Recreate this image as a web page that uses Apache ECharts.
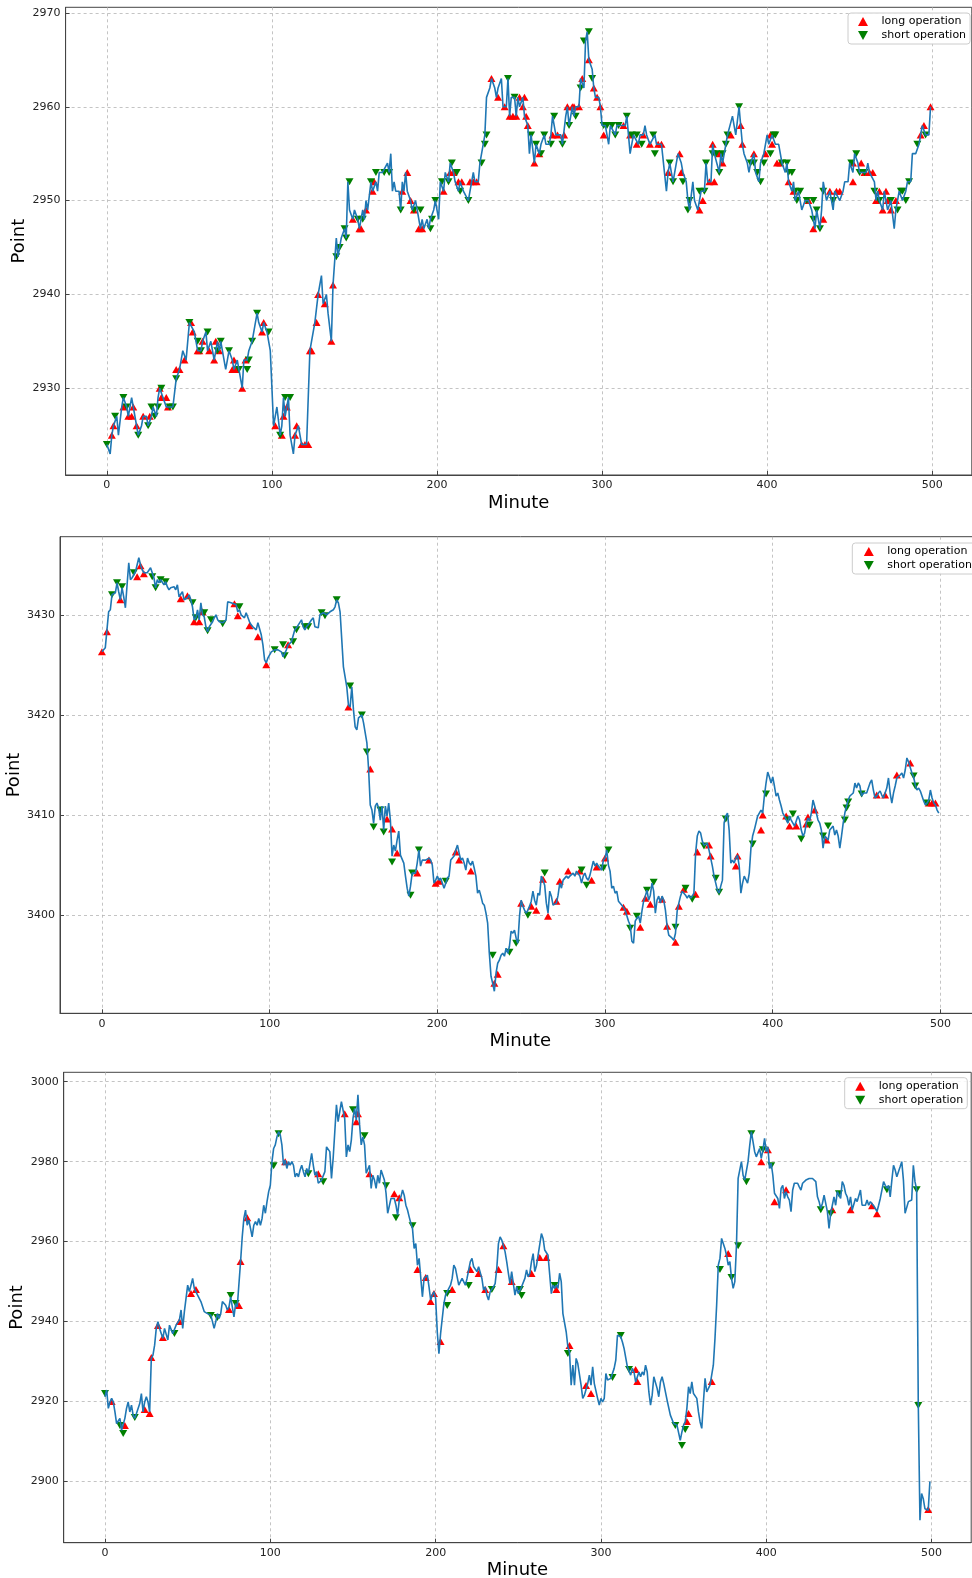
<!DOCTYPE html>
<html>
<head>
<meta charset="utf-8">
<title>long / short operation</title>
<script src="https://cdn.jsdelivr.net/npm/echarts@6/dist/echarts.min.js"></script>
<style>
html,body{margin:0;padding:0;background:#fff;overflow:hidden;}
/* a little wider than the window: the right edge of the middle panel runs off the picture */
#main{width:1000px;height:1578px;}
</style>
</head>
<body>
<div id="main"></div>
<script>
//数据 [minute, point]
var p1Price=[[0,2924],[2,2923],[3,2925],[4,2926],[6,2927],[7,2925],[9,2928],[10,2929],[12,2928],[13,2927],[15,2929],[16,2928],[18,2926],[19,2925],[21,2926],[22,2927],[24,2927],[25,2926],[27,2927],[28,2928],[30,2927],[31,2929],[32,2930],[34,2929],[35,2929],[36,2928],[38,2928],[40,2928],[42,2931],[44,2932],[45,2933],[46,2934],[48,2933],[50,2937],[51,2937],[53,2936],[54,2935],[55,2934],[57,2934],[58,2935],[60,2936],[61,2934],[63,2935],[64,2934],[65,2933],[67,2935],[68,2934],[69,2935],[71,2933],[72,2932],[73,2933],[74,2934],[76,2933],[77,2932],[79,2933],[80,2932],[82,2930],[83,2933],[85,2933],[86,2934],[88,2935],[89,2935],[91,2938],[92,2937],[94,2936],[95,2937],[97,2936],[98,2936],[99,2934],[101,2926],[102,2927],[103,2928],[105,2925],[106,2926],[107,2929],[108,2927],[110,2929],[111,2925],[113,2923],[114,2925],[116,2926],[117,2925],[118,2924],[121,2924],[123,2934],[124,2934],[126,2937],[128,2940],[129,2941],[130,2942],[131,2939],[133,2940],[134,2938],[136,2935],[137,2941],[139,2946],[140,2944],[141,2945],[142,2946],[144,2947],[145,2946],[146,2952],[147,2949],[149,2948],[150,2949],[152,2948],[153,2947],[155,2949],[156,2948],[157,2950],[158,2949],
[160,2952],[161,2951],[163,2952],[164,2951],[165,2953],[167,2953],[168,2953],[170,2954],[171,2953],[172,2955],[173,2951],[174,2952],[175,2951],[177,2951],[178,2949],[179,2952],[180,2951],[181,2953],[182,2951],[184,2950],[185,2949],[187,2950],[188,2950],[190,2947],[191,2948],[192,2947],[194,2948],[195,2947],[196,2948],[198,2949],[199,2950],[201,2948],[202,2952],[204,2951],[205,2953],[207,2952],[208,2954],[210,2953],[211,2952],[213,2951],[214,2952],[216,2951],[217,2951],[219,2950],[220,2951],[222,2953],[223,2952],[225,2952],[226,2954],[228,2956],[229,2957],[230,2961],[232,2962],[233,2963],[235,2962],[236,2961],[237,2962],[239,2963],[240,2960],[242,2960],[243,2963],[244,2959],[245,2961],[247,2961],[248,2959],[249,2961],[250,2960],[252,2961],[253,2959],[255,2958],[256,2955],[257,2957],[259,2954],[260,2956],[262,2955],[263,2956],[265,2957],[266,2956],[268,2956],[269,2957],[270,2959],[272,2957],[273,2957],[275,2957],[276,2956],[278,2959],[279,2960],[280,2958],[282,2960],[283,2959],[284,2960],[286,2960],[287,2963],[289,2962],[290,2967],[291,2968],[292,2965],[294,2964],[295,2962],[296,2961],[298,2961],[299,2960],[300,2958],[302,2958],[303,2958],[304,2956],[305,2958],[306,2958],[308,2957],[309,2958],[311,2958],[312,2958],[314,2958],[315,2959],[316,2957],[317,2955],[319,2957],[320,2957],[322,2956],[323,2957],[325,2957],[326,2958],[327,2957],[329,2956],[330,2956],[332,2957],[333,2956],[334,2956],[336,2956],[337,2956],[339,2951],[340,2953],[341,2954],[343,2952],[344,2952],[346,2955],[347,2955],[348,2954],[349,2953],[351,2952],[352,2950],[353,2949],
[355,2952],[356,2950],[358,2949],[359,2950],[360,2951],[362,2951],[363,2954],[364,2952],[366,2952],[367,2956],[368,2955],[369,2955],[371,2953],[372,2955],[373,2954],[375,2956],[376,2957],[377,2957],[379,2959],[380,2958],[381,2957],[383,2960],[384,2958],[385,2956],[386,2955],[388,2954],[389,2953],[390,2954],[392,2955],[393,2953],[394,2953],[395,2952],[396,2954],[398,2955],[399,2956],[400,2957],[401,2956],[403,2957],[404,2957],[405,2956],[407,2956],[408,2955],[409,2954],[411,2953],[412,2954],[413,2952],[415,2951],[416,2952],[417,2950],[419,2951],[420,2950],[421,2949],[423,2950],[424,2950],[425,2950],[427,2949],[428,2948],[429,2947],[430,2949],[432,2947],[433,2949],[434,2952],[435,2951],[436,2950],[438,2951],[439,2950],[440,2949],[441,2951],[442,2951],[444,2950],[445,2950],[446,2951],[447,2952],[449,2952],[450,2954],[451,2954],[452,2953],[453,2955],[455,2954],[456,2953],[457,2953],[458,2953],[460,2953],[461,2954],[462,2953],[463,2953],[465,2952],[466,2950],[467,2951],[468,2950],[470,2949],[471,2951],[472,2950],[473,2949],[475,2950],[477,2947],[478,2949],[479,2950],[480,2951],[481,2951],[482,2950],[484,2951],[485,2952],[487,2952],[488,2955],[490,2955],[491,2955],[492,2956],[493,2957],[494,2958],[496,2957],[497,2957],[498,2957],[499,2960]];

var p1Long=[[3,2925],[4,2926],[10,2928],[13,2927],[15,2927],[16,2928],[18,2926],[22,2927],[26,2927],[32,2930],[33,2929],[36,2929],[37,2928],[42,2932],[44,2932],[47,2933],[51,2937],[52,2936],[55,2934],[56,2934],[58,2935],[62,2934],[65,2933],[66,2935],[68,2934],[76,2932],[77,2933],[78,2932],[82,2930],[84,2933],[94,2936],[95,2937],[102,2926],[106,2925],[107,2927],[109,2928],[114,2925],[115,2926],[118,2924],[120,2924],[122,2924],[123,2934],[124,2934],[127,2937],[128,2940],[132,2939],[136,2935],[137,2941],[149,2948],[153,2947],[154,2947],[157,2949],[161,2951],[162,2952],
[179,2951],[182,2953],[184,2950],[186,2949],[189,2947],[191,2947],[204,2951],[208,2953],[210,2953],[213,2952],[215,2952],[220,2952],[222,2952],[224,2952],[233,2963],[237,2961],[241,2960],[244,2959],[246,2959],[248,2959],[250,2961],[252,2960],[253,2961],[254,2959],[255,2958],[259,2954],[262,2955],[270,2957],[273,2957],[277,2957],[279,2960],[282,2960],[283,2960],[286,2960],[288,2963],[292,2965],[295,2962],[297,2961],[299,2960],[301,2957],[313,2958],[317,2957],[321,2956],[325,2957],[329,2956],[334,2956],[336,2956],[340,2953],[347,2955],
[348,2953],[359,2949],[361,2950],[365,2952],[367,2956],[368,2952],[371,2955],[373,2954],[378,2957],[384,2958],[385,2956],[392,2955],[399,2955],[402,2957],[403,2956],[406,2954],[408,2954],[413,2952],[416,2951],[425,2950],[428,2947],[434,2948],[438,2951],[442,2951],[444,2951],[452,2952],[452,2954],[457,2954],[459,2953],[462,2953],[464,2953],[466,2950],[468,2951],[470,2949],[472,2951],[473,2950],[475,2949],[478,2950],[493,2957],[495,2958],[499,2960]];

var p1Short=[[0,2924],[5,2927],[10,2929],[12,2928],[19,2925],[25,2926],[27,2928],[29,2927],[31,2928],[33,2930],[38,2928],[40,2928],[42,2931],[50,2937],[55,2935],[57,2934],[61,2936],[67,2934],[69,2935],[74,2934],[80,2932],[85,2932],[86,2933],[88,2935],[91,2938],[98,2936],[105,2925],[108,2929],[111,2929],[139,2944],[141,2945],[144,2947],[145,2946],[147,2952],[152,2948],[155,2948],[160,2952],
[163,2953],[168,2953],[171,2953],[178,2949],[186,2949],[190,2949],[196,2947],[197,2948],[199,2950],[203,2952],[207,2952],[209,2954],[212,2953],[214,2951],[219,2950],[227,2954],[229,2956],[230,2957],[243,2963],[247,2961],[257,2957],[260,2956],[263,2955],[265,2957],[269,2956],[271,2959],[276,2956],[280,2958],[284,2959],[287,2962],[289,2967],[292,2968],[294,2963],[301,2958],[303,2958],[306,2958],[308,2957],[310,2958],[315,2959],[318,2957],[321,2957],[324,2956],[331,2957],[332,2955],[341,2954],[343,2952],
[349,2952],[352,2949],[353,2950],[359,2951],[362,2951],[363,2954],[367,2955],[369,2955],[371,2953],[373,2955],[375,2956],[376,2957],[383,2960],[390,2954],[392,2954],[394,2953],[396,2952],[398,2954],[402,2955],[404,2957],[405,2957],[409,2954],[412,2954],[413,2953],[415,2953],[417,2951],[418,2950],[420,2951],[424,2950],[428,2950],[428,2948],[430,2949],[432,2947],[434,2951],[440,2950],[451,2954],[454,2955],[456,2953],[459,2953],[465,2951],[468,2950],[475,2950],[479,2949],[481,2951],[482,2951],[484,2950],[486,2952],[491,2956],[496,2957]];

var p2Price=[[0,3426.3],[2,3426.7],[3,3428.5],[4,3430.3],[5,3430.5],[6,3432],[8,3432.2],[9,3433.2],[10,3432.3],[11,3431.5],[12,3432.7],[13,3431.8],[14,3430.7],[15,3433],[16,3435.2],[17,3433.5],[18,3433.7],[19,3433.8],[20,3434.3],[22,3435.7],[23,3435],[24,3434.5],[25,3434.2],[27,3434.2],[28,3434.2],[29,3434.7],[31,3433.7],[32,3432.7],[33,3433.5],[34,3433.2],[35,3433.5],[37,3433],[38,3433.3],[39,3432.8],[40,3432.5],[41,3432.7],[43,3432.8],[44,3432.5],[45,3433],[46,3431.8],[47,3431.7],[48,3432.3],[49,3431.5],[51,3431.7],[52,3432],[53,3431.5],[54,3430.8],[55,3429.5],[56,3429.7],[57,3430.5],[58,3429.5],[59,3431.2],[60,3430],[61,3429.8],[62,3428.8],[63,3428.3],[64,3428.8],[66,3429.3],[67,3429.7],[68,3430],[69,3429.5],[70,3429.3],[72,3429.2],[73,3429.3],[74,3429.5],[75,3431.3],[76,3431.3],[77,3431.2],[78,3431.3],[80,3431],[81,3430.3],[82,3430.5],[83,3430],[84,3430],[85,3429.7],[86,3430.2],[88,3429.3],[89,3429],[90,3428.8],[91,3428.8],[92,3428.5],[93,3429.2],[95,3428],[96,3427],[97,3425.5],[98,3425.2],[99,3425.7],[100,3425.7],[101,3426.3],[103,3426.5],[104,3426.5],[105,3426.5],[107,3426.3],[108,3425.8],[109,3425.8],[110,3426.5],[111,3427],[113,3427.3],[114,3427.3],[115,3428.5],[116,3428.7],[117,3428.7],[119,3429.5],[120,3428.8],[121,3428.5],[122,3428.8],[123,3429],[125,3429.5],[126,3429.7],[127,3428.8],[128,3428.8],[129,3428.7],[130,3430],[132,3430.2],[133,3430.3],[134,3430],[135,3430],[136,3430.3],[138,3430.5],[139,3430.8],[140,3431.5],[141,3431.2],[142,3430.3],[143,3430.3],[144,3424.8],[145,3424.8],[146,3422.8],[147,3421],[148,3420.8],[149,3422.8],[150,3420.5],[151,3418.8],[152,3418.5],[153,3419.7],[154,3419.8],[155,3420],[156,3419.2],[158,3417.2],[159,3414.6],[160,3411],
[161,3410.5],[162,3409.2],[163,3410.9],[164,3411.2],[165,3410.7],[166,3409.5],[167,3410.9],[168,3408.5],[169,3410.9],[170,3409.9],[171,3411.2],[172,3409.5],[173,3405.9],[174,3407],[175,3406.4],[176,3407.5],[177,3408.4],[178,3406],[179,3406],[180,3405.2],[181,3403.9],[182,3402.7],[183,3401.9],[184,3402.9],[185,3404.2],[186,3404.2],[187,3404.2],[188,3405.2],[189,3406.5],[190,3404.9],[191,3405.5],[193,3405.5],[195,3405.7],[196,3405.5],[197,3405],[198,3403.2],[199,3403.5],[200,3403.9],[201,3403.5],[202,3403.7],[203,3403.2],[204,3402.7],[205,3403.2],[206,3403.7],[207,3403.9],[208,3405.5],[209,3405.7],[210,3405.9],[211,3406.5],[212,3407],[213,3406.2],[214,3405.5],[215,3405.7],[216,3405.2],[217,3404.5],[218,3405.7],[219,3405.2],[220,3405],[221,3405.4],[222,3404.7],[223,3403.9],[224,3402.2],[225,3402.5],[226,3401.9],[227,3401.2],[228,3401],[229,3400.2],[230,3399.2],[231,3396.2],[232,3393.9],[233,3393.2],[234,3392.4],[235,3394.2],[236,3395.2],[237,3395.5],[238,3396],[239,3396.2],[240,3395.9],[241,3396.7],[242,3396.2],[243,3396.9],[244,3398.4],[245,3398.2],[246,3398.5],[247,3397.7],[248,3397.2],[249,3399.9],[250,3401.5],[251,3400.9],[252,3400.5],[253,3400.2],[254,3400.5],[255,3400.9],[256,3401.4],[257,3402.4],[258,3401.5],[259,3401],[260,3402.2],[261,3402],[262,3403.9],[263,3403.5],[264,3403],[265,3401.2],[266,3400.2],[267,3402.4],[268,3401.9],[269,3401],[270,3400.9],[271,3401.2],[272,3402],[273,3403.2],[274,3402.7],[275,3403.5],[276,3403.4],[277,3403.9],[278,3403.7],[279,3403.9],[280,3403.9],[281,3404.2],[282,3403.9],[283,3404.4],[284,3404.5],[285,3403.9],[286,3403.2],[287,3403.9],[288,3404.2],[289,3403.7],[290,3403.5],[291,3404],[292,3403.9],[293,3405.4],[294,3404.9],[295,3405.2],[296,3404.9],[297,3405],[298,3404.5],[299,3405.5],[300,3405.7],[301,3406.5],[302,3405],[303,3404.4],[304,3402.7],[305,3402.9],[306,3402.2],[307,3402.4],[308,3401.4],[309,3401.2],[310,3401],[311,3400.9],[312,3400.5],[313,3400.4],[314,3399.4],[315,3399],[316,3397.4],[317,3397.2],[318,3399.4],[319,3399.7],[320,3399.9],[321,3399.2],[322,3400.4],[323,3401.4],[324,3401.9],[325,3402.5],[326,3401.5],[327,3402],[328,3403.2],[329,3402.4],[330,3400.2],[331,3401.5],[332,3401.9],[333,3401.2],[334,3401.9],[335,3401.5],[336,3400.5],[337,3398.9],[338,3398],[339,3397.9],[340,3397.7],[341,3397.5],[342,3398.2],[343,3400.4],[344,3401.2],[345,3401.9],[346,3402.4],[347,3402.5],[348,3402],[349,3401.7],[350,3402],
[351,3401.7],[352,3401.9],[353,3402.2],[354,3406.2],[355,3407.9],[356,3408.4],[357,3408.2],[358,3407.4],[359,3407],[360,3406.9],[361,3407.2],[362,3406.5],[363,3405.7],[364,3404.9],[365,3403.9],[366,3403.2],[367,3402.5],[368,3402.2],[369,3402.9],[370,3403.5],[371,3409.2],[372,3409.9],[373,3410.2],[374,3408.5],[375,3405.2],[376,3405.5],[377,3405.2],[378,3405.7],[379,3406],[380,3404.9],[381,3402.2],[382,3403.2],[383,3403.9],[384,3403.9],[385,3403.2],[386,3404.2],[387,3406.7],[388,3407.9],[389,3408.5],[390,3408.4],[391,3409.9],[392,3410],[393,3410.5],[394,3410.2],[395,3411.9],[396,3413.2],[397,3414.3],[398,3413.8],[399,3413.2],[400,3413.8],[401,3412.9],[402,3411.9],[403,3412.2],[404,3411.5],[405,3410.9],[406,3410.2],[407,3409.9],[408,3409.9],[409,3409.2],[410,3409.9],[411,3409.5],[412,3409.2],[413,3408.9],[414,3409.4],[415,3409.9],[416,3409.5],[417,3408.5],[418,3407.9],[419,3408.2],[420,3409.2],[421,3409.7],[422,3409.4],[423,3410.2],[424,3411.5],[425,3410.9],[426,3410.9],[427,3409.5],[428,3409.2],[429,3408.5],[430,3406.7],[431,3407.9],[432,3408],[433,3407.5],[434,3408.5],[435,3408.7],[436,3408.9],[437,3408],[438,3408.5],[439,3407.9],[440,3406.7],[441,3407.9],[442,3409.2],[443,3410.2],[444,3410.9],[445,3411.5],[446,3411.9],[447,3411.9],[448,3412.2],[449,3413.2],[450,3412.7],[451,3413.2],[452,3412.9],[453,3411.9],[454,3412.2],[455,3412.2],[456,3412.2],[457,3412.2],[458,3413.2],[459,3413.5],[460,3412.5],[461,3411.7],[462,3411.9],[463,3412.2],[464,3412.4],[465,3412],[466,3411.7],[467,3412.2],[468,3412.7],[469,3413.7],[470,3412.2],[471,3411.2],[472,3412.2],[473,3412.9],[474,3413.7],[475,3413.8],[476,3414],[477,3414.2],[478,3413.7],[479,3414.5],[480,3415.7],[481,3415.3],[482,3415.2],[483,3414.2],[484,3413.8],[485,3413],[486,3412.5],[487,3412.7],[488,3412.4],[489,3411.9],[490,3411.4],[491,3411],[492,3411.2],[493,3411.5],[494,3412.5],[495,3411.7],[496,3411.2],[497,3411],[498,3410.5],[499,3410.2]];

var p2Long=[[0,3426.3],[3,3428.3],[11,3431.5],[21,3433.8],[23,3434.9],[25,3434.1],[47,3431.6],[51,3431.9],[55,3429.3],[58,3429.3],[60,3430.3],[79,3431.1],[81,3429.9],[88,3428.9],[93,3427.8],[98,3425],[111,3427],[147,3420.8],[160,3414.6],[170,3409.6],[173,3408.6],[176,3406.2],[188,3404.2],[195,3405.5],[199,3403.2],[201,3403.4],[211,3406.3],[213,3405.5],[220,3404.4],[234,3393.2],[236,3394.1],[250,3401.2],[256,3400.9],[259,3400.5],[263,3403.6],[266,3399.9],[271,3401.4],[273,3403.4],[278,3404.4],[285,3404.4],[292,3403.5],[295,3404.8],[300,3405.7],[311,3400.8],[313,3400.4],[321,3398.8],[324,3401.7],[327,3401.1],[334,3401.6],[337,3398.9],[342,3397.3],[344,3400.9],[347,3402.6],[354,3402.1],[355,3406.3],[362,3407],[363,3405.9],[378,3404.9],[379,3405.9],[393,3408.5],[394,3410],[408,3409.9],[410,3408.9],[414,3408.9],[420,3409.1],[421,3409.8],[425,3410.5],[432,3407.5],[462,3412],[467,3412],[474,3414],[482,3415.2],[493,3411.2],[495,3411.2],[497,3411.2]];

var p2Short=[[6,3432],[9,3433.2],[12,3432.8],[19,3434.2],[30,3433.8],[32,3432.7],[35,3433.5],[38,3433.3],[54,3431.2],[56,3429.7],[61,3430.2],[63,3428.4],[65,3429.5],[72,3429.1],[82,3430.8],[103,3426.5],[108,3427],[109,3425.9],[114,3427.3],[116,3428.5],[121,3428.8],[123,3428.8],[131,3430.2],[133,3429.9],[140,3431.5],[148,3422.9],[155,3420],[158,3416.3],[162,3408.8],[166,3410.5],[168,3408.3],[173,3405.3],[184,3402],[185,3404.2],[189,3406.5],[205,3403.4],[233,3396],[243,3396.3],[247,3397.2],[254,3400],[264,3404.2],[286,3404.5],[289,3403],[299,3404.7],[302,3406.5],[315,3398.7],[319,3399.9],[325,3402.5],[329,3403.3],[342,3398.8],[348,3402.7],[352,3401.6],[359,3406.9],[366,3403.7],[368,3402.3],[372,3409.6],[388,3407.1],[396,3412.1],[409,3409.5],[412,3410.1],[417,3407.6],[422,3409],[430,3407.9],[433,3408.9],[443,3409.5],[444,3410.7],[445,3411.3],[453,3412.1],[484,3413.9],[485,3412.9],[492,3411.2]];

var p3Price=[[0,2921.2],[1,2922.9],[2,2918.3],[3,2919.9],[4,2920.8],[5,2919.9],[6,2917.4],[7,2914.5],[8,2914.1],[9,2915.8],[10,2912.8],[11,2913.3],[12,2915.8],[13,2918.3],[14,2919.9],[15,2917.4],[16,2919.1],[17,2916.6],[18,2915.8],[19,2917],[20,2917.4],[21,2919.5],[22,2922],[23,2917.4],[24,2919.9],[25,2921.2],[26,2919.9],[27,2917.4],[28,2930.8],[29,2931.6],[30,2934.1],[31,2938.3],[32,2940],[33,2938.3],[34,2938.3],[35,2935.8],[36,2938.3],[37,2937.9],[38,2935.4],[39,2939.1],[40,2939.1],[41,2937],[42,2936.6],[43,2939.1],[44,2939.1],[45,2940.4],[46,2942.9],[47,2938.3],[48,2942.5],[49,2945.8],[50,2949.1],[51,2947.5],[52,2949.1],[53,2950.8],[54,2948.3],[55,2947.9],[56,2946.6],[57,2946.6],[58,2945],[59,2944.5],[60,2942.5],[61,2942.5],[62,2942],[63,2941.8],[64,2941.6],[65,2940],[66,2938.3],[67,2940],[68,2942],[69,2940.8],[70,2942],[71,2945],[72,2945],[73,2944.1],[74,2942.9],[75,2943.7],[76,2946.2],[77,2943.7],[78,2941.2],[79,2944.5],[80,2943.7],[81,2944.1],[82,2955],[83,2961.2],[84,2965.8],[85,2967.9],[86,2964.1],[87,2965.4],[88,2963.3],[89,2961.2],[90,2964.1],[91,2965],[92,2964.1],[93,2965.8],[94,2964.1],[95,2965.8],[96,2969.1],[97,2967.1],[98,2970],[99,2972.5],[100,2974.1],[101,2980],[102,2983.3],[103,2984.2],[104,2986.2],[105,2987.5],[106,2986.7],[107,2984.2],[108,2979.1],[109,2980.4],[110,2978.3],[111,2980],[112,2979.1],[113,2980],[114,2979.1],[115,2976.2],[116,2977.1],[117,2976.2],[118,2977.9],[119,2979.1],[120,2977.5],[121,2976.2],[122,2978.3],[123,2977.1],[124,2977.1],[125,2982.1],[126,2979.1],[127,2976.6],[128,2977.5],[129,2974.6],[130,2974.6],[131,2975.4],[132,2975.8],[133,2977.5],[134,2983.7],[135,2984.2],[136,2982.5],[137,2975.8],[138,2980.8],[139,2987.5],[140,2994.2],[141,2990],[142,2992.5],[143,2995],[144,2994.6],[145,2990.8],[146,2981.2],[147,2984.2],[148,2982.5],[149,2985.4],[150,2990.8],[151,2993.3],[152,2990.4],[153,2996.7],[154,2989.2],[155,2984.2],[156,2986.2],[157,2984.2],[158,2977.1],[159,2977.5],[160,2979.1],[161,2973.3],[162,2976.6],[163,2975.4],
[164,2973.3],[165,2976.6],[166,2974.6],[167,2977.9],[168,2977.9],[169,2975.4],[170,2972.1],[171,2967.1],[172,2967.5],[173,2970.8],[174,2971.2],[175,2970.8],[176,2969.1],[177,2966.6],[178,2970.4],[179,2971.2],[180,2972.9],[181,2971.6],[182,2969.1],[183,2967.9],[184,2966.2],[185,2964.6],[186,2963.3],[187,2958.3],[188,2959.5],[189,2954.1],[190,2955.8],[191,2955.4],[192,2946.2],[193,2950.8],[194,2951.2],[195,2951.6],[196,2948.7],[197,2945.4],[198,2946.6],[199,2947.5],[200,2945.8],[201,2937.4],[202,2932],[203,2937],[204,2937],[205,2944.5],[206,2946.6],[207,2947.5],[208,2947.5],[209,2949.1],[210,2950.8],[211,2954.1],[212,2953.3],[213,2952.9],[214,2949.1],[215,2950],[216,2950.8],[217,2950.4],[218,2949.1],[219,2950.8],[220,2952.9],[221,2955],[222,2955.8],[223,2953.7],[224,2954.1],[225,2952.5],[226,2953.7],[227,2954.1],[228,2950.8],[229,2947.9],[230,2948.7],[231,2946.6],[232,2945.4],[233,2947.5],[234,2947.5],[235,2948.7],[236,2949.5],[237,2953.3],[238,2959.5],[239,2961.2],[240,2960.4],[241,2960.4],[242,2957.5],[243,2955],[244,2952.1],[245,2949.5],[246,2952.5],[247,2952.9],[248,2946.6],[249,2948.7],[250,2947],[251,2946.6],[252,2948.7],[253,2949.1],[254,2950.8],[255,2952.9],[256,2951.2],[257,2952.1],[258,2955],[259,2957],[260,2952.5],[261,2954],[262,2956.6],[263,2956.6],[264,2962],[265,2960.8],[266,2957.9],[267,2957.9],[268,2956.6],[269,2956.2],[270,2947],[271,2949.1],[272,2948.3],[273,2949.1],[274,2948.3],[275,2952.1],[276,2950],[277,2942],[278,2941.6],[279,2937.4],[280,2933.7],[281,2932.4],[282,2924.1],[283,2929.1],[284,2924.1],[285,2930.8],[286,2929.5],[287,2929.1],[288,2924.1],[289,2920.8],[290,2921.6],[291,2922],[292,2924.5],[293,2926.6],[294,2924.1],[295,2928.7],[296,2924.5],[297,2924.9],[298,2920.8],[299,2919.1],[300,2920.8],[301,2919.9],[302,2920.8],[303,2927],[304,2925.4],[305,2925.4],[306,2925.8],[307,2926.2],[308,2928.3],[309,2930.4],[310,2936.6],[311,2937],[312,2936.2],[313,2934.9],[314,2933.3],[315,2933.7],[316,2928.7],[317,2928.7],[318,2926.6],[319,2928.3],[320,2927.4],[321,2924.9],[322,2925.4],[323,2927.4],[324,2926.2],[325,2927.4],[326,2926.6],[327,2929.1],[328,2927.4],[329,2922.4],[330,2919.1],[331,2921.6],[332,2926.2],[333,2925.8],[334,2923.3],[335,2921.2],[336,2924.9],[337,2926.2],[338,2924.5],[339,2924.1],[340,2920.4],[341,2919.9],[342,2916.6],[343,2917],[344,2914.5],[345,2914.1],[346,2914.1],[347,2913.7],[348,2910.3],[349,2912.4],[350,2914.1],[351,2914.9],[352,2918.3],[353,2923.7],
[354,2922],[355,2924.9],[356,2922],[357,2921.6],[358,2920.8],[359,2917.4],[360,2914.9],[361,2913.3],[362,2919.9],[363,2925.8],[364,2922.4],[365,2922],[366,2924.1],[367,2924.5],[368,2929.1],[369,2935.8],[370,2944.1],[371,2954.1],[372,2955.8],[373,2960.8],[374,2961.2],[375,2958.3],[376,2956.6],[377,2954.1],[378,2955],[379,2950.8],[380,2948.3],[381,2950],[382,2959.1],[383,2975.8],[384,2976.2],[385,2980],[386,2976.6],[387,2975.4],[388,2975],[389,2980],[390,2984],[391,2987.5],[392,2985],[393,2982.5],[394,2981.2],[395,2980.8],[396,2983.3],[397,2980.8],[398,2982.9],[399,2985.8],[400,2982.5],[401,2983.7],[402,2978.3],[403,2979.6],[404,2976.6],[405,2972.1],[406,2971.6],[407,2970.8],[408,2968.3],[409,2973.3],[410,2974.1],[411,2970.8],[412,2972.5],[413,2971.2],[414,2970.4],[415,2967.5],[416,2972.9],[417,2974.6],[418,2975],[419,2974.6],[420,2973.7],[421,2972.9],[422,2974.6],[423,2974.1],[424,2975.4],[425,2975.8],[426,2975.8],[427,2975.4],[428,2975.8],[429,2975.8],[430,2975],[431,2971.2],[432,2970],[433,2968.3],[434,2969.6],[435,2971.6],[436,2972.1],[437,2967.5],[438,2963.3],[439,2967.1],[440,2969.1],[441,2971.2],[442,2969.1],[443,2972.5],[444,2972.9],[445,2970.8],[446,2975],[447,2974.1],[448,2972.1],[449,2971.2],[450,2969.1],[451,2971.2],[452,2967.9],[453,2967.9],[454,2970.8],[455,2970],[456,2970],[457,2972.9],[458,2969.1],[459,2969.6],[460,2969.1],[461,2970.4],[462,2969.1],[463,2970],[464,2970],[465,2969],[466,2968.3],[467,2967.5],[468,2969.1],[469,2970.8],[470,2970.8],[471,2975],[472,2974.1],[473,2973.3],[474,2974.1],[475,2971.2],[476,2975.4],[477,2979.1],[478,2977.9],[479,2976.2],[480,2977.5],[481,2978.7],[482,2980],[483,2975.4],[484,2967.1],[485,2967.1],[486,2970],[487,2970],[488,2970.4],[489,2979.1],[490,2975],[491,2973],[492,2919.1],[493,2890.3],[494,2897],[495,2895.7],[496,2893.2],[497,2892.8],[498,2892.8],[499,2900]];

var p3Long=[[4,2920],[12,2914],[24,2918],[27,2917],[28,2931],[32,2939],[35,2936],[45,2940],[52,2947],[55,2948],[75,2943],[81,2944],[82,2955],[86,2966],[109,2980],[129,2977],[145,2992],[152,2990],[153,2992],[160,2977],[175,2972],[178,2971],[189,2953],[194,2951],[197,2945],[199,2947],[203,2935],[210,2948],[221,2953],[226,2952],[230,2948],[238,2953],[241,2959],[246,2950],[258,2952],[263,2956],[267,2956],[273,2948],[281,2934],[291,2924],[294,2922],[321,2928],[322,2925],[352,2915],[353,2917],[367,2925],[377,2957],[397,2980],[401,2983],[405,2970],[412,2973],[440,2968],[451,2968],[464,2969],[467,2967],[498,2893]];

var p3Short=[[0,2922],[9,2914],[11,2912],[18,2916],[42,2937],[64,2941.5],[68,2941],[76,2946.5],[79,2944.5],[102,2979],[105,2987],[123,2977],[132,2975],[150,2993],[157,2986.5],[170,2974],[176,2966],[186,2964],[207,2944],[207,2947],[220,2949],[234,2948],[251,2948],[252,2946.5],[272,2949],[280,2932],[307,2926],[312,2936.5],[317,2928],[345,2914],[349,2909],[351,2913],[372,2953],[379,2951],[383,2959],[388,2975],[391,2987],[398,2983],[403,2979],[433,2968],[439,2967],[444,2972],[473,2973],[491,2973],[492,2919]];

var xTicks=[0,100,200,300,400,500];
var p1Ticks=[2930,2940,2950,2960,2970];
var p2Ticks=[3400,3410,3420,3430];
var p3Ticks=[2900,2920,2940,2960,2980,3000];

//三个子图的位置(像素)
var panels=[
  {price:p1Price, long:p1Long, short:p1Short, ticks:p1Ticks, ymin:2920.75, ymax:2970.6,
   left:65.6, top:7.3, width:906.2, height:467.7, legendLeft:848, legendTop:13, legendPad:10},
  {price:p2Price, long:p2Long, short:p2Short, ticks:p2Ticks, ymin:3390.2, ymax:3437.8,
   left:60, top:536.7, width:920.7, height:476.6, legendLeft:852.3, legendTop:543, legendPad:11.5},
  {price:p3Price, long:p3Long, short:p3Short, ticks:p3Ticks, ymin:2884.7, ymax:3002.35,
   left:63.7, top:1072.3, width:907.5, height:470.4, legendLeft:844.7, legendTop:1077.7, legendPad:10.5}
];

var font='DejaVu Sans';
var grid=[], xAxis=[], yAxis=[], series=[], legend=[];
function plain(v){ return String(v); }

panels.forEach(function(p,i){
  grid.push({left:p.left, top:p.top, width:p.width, height:p.height,
    containLabel:false, outerBoundsMode:'none',
    show:true, borderColor:'#444', borderWidth:1, backgroundColor:'transparent'});
  xAxis.push({type:'value', gridIndex:i, min:-25, max:524,
    name:'Minute', nameLocation:'middle', nameGap:19, nameMoveOverlap:false,
    nameTextStyle:{fontSize:18, color:'#000', fontFamily:font},
    axisLine:{show:true, onZero:false, lineStyle:{color:'#444'}},
    axisTick:{show:true, inside:true, length:4, customValues:xTicks, lineStyle:{color:'#444'}},
    axisLabel:{customValues:xTicks, formatter:plain, margin:5, fontSize:11, color:'#222', fontFamily:font},
    splitLine:{show:true, lineStyle:{color:'#b5b5b5', width:0.8, type:[3,3]}}});
  yAxis.push({type:'value', gridIndex:i, min:p.ymin, max:p.ymax,
    name:'Point', nameLocation:'middle', nameGap:37, nameMoveOverlap:false,
    nameTextStyle:{fontSize:18, color:'#000', fontFamily:font},
    axisLine:{show:true, onZero:false, lineStyle:{color:'#444'}},
    axisTick:{show:true, inside:true, length:4, customValues:p.ticks, lineStyle:{color:'#444'}},
    axisLabel:{customValues:p.ticks, formatter:plain, margin:5, fontSize:11, color:'#222', fontFamily:font},
    splitLine:{show:true, lineStyle:{color:'#b5b5b5', width:0.8, type:[3,3]}}});
  series.push({name:'long operation', type:'scatter', xAxisIndex:i, yAxisIndex:i,
    data:p.long, symbol:'triangle', symbolSize:[8,7], itemStyle:{color:'#ff0000', opacity:1}});
  series.push({name:'short operation', type:'scatter', xAxisIndex:i, yAxisIndex:i,
    data:p.short, symbol:'triangle', symbolRotate:180, symbolSize:[8,7], itemStyle:{color:'#008000', opacity:1}});
  series.push({name:'price', type:'line', xAxisIndex:i, yAxisIndex:i,
    data:p.price, showSymbol:false, symbol:'none',
    lineStyle:{color:'#1f77b4', width:1.6}});
  legend.push({left:p.legendLeft, top:p.legendTop, orient:'vertical',
    padding:[3,4,3,p.legendPad], itemGap:3, itemWidth:27, itemHeight:9,
    symbolRotate:0, selectedMode:false,
    backgroundColor:'rgba(255,255,255,0.85)', borderColor:'#cccccc', borderWidth:1, borderRadius:3,
    textStyle:{fontSize:11, color:'#000', fontFamily:font},
    data:[{name:'long operation', icon:'path://M5,0L10,9L0,9Z'},
          {name:'short operation', icon:'path://M0,0L10,0L5,9Z'}]});
});

var myChart=echarts.init(document.getElementById('main'));
myChart.setOption({
  animation:false,
  textStyle:{fontFamily:font},
  grid:grid, xAxis:xAxis, yAxis:yAxis, legend:legend, series:series
});
</script>
</body>
</html>
